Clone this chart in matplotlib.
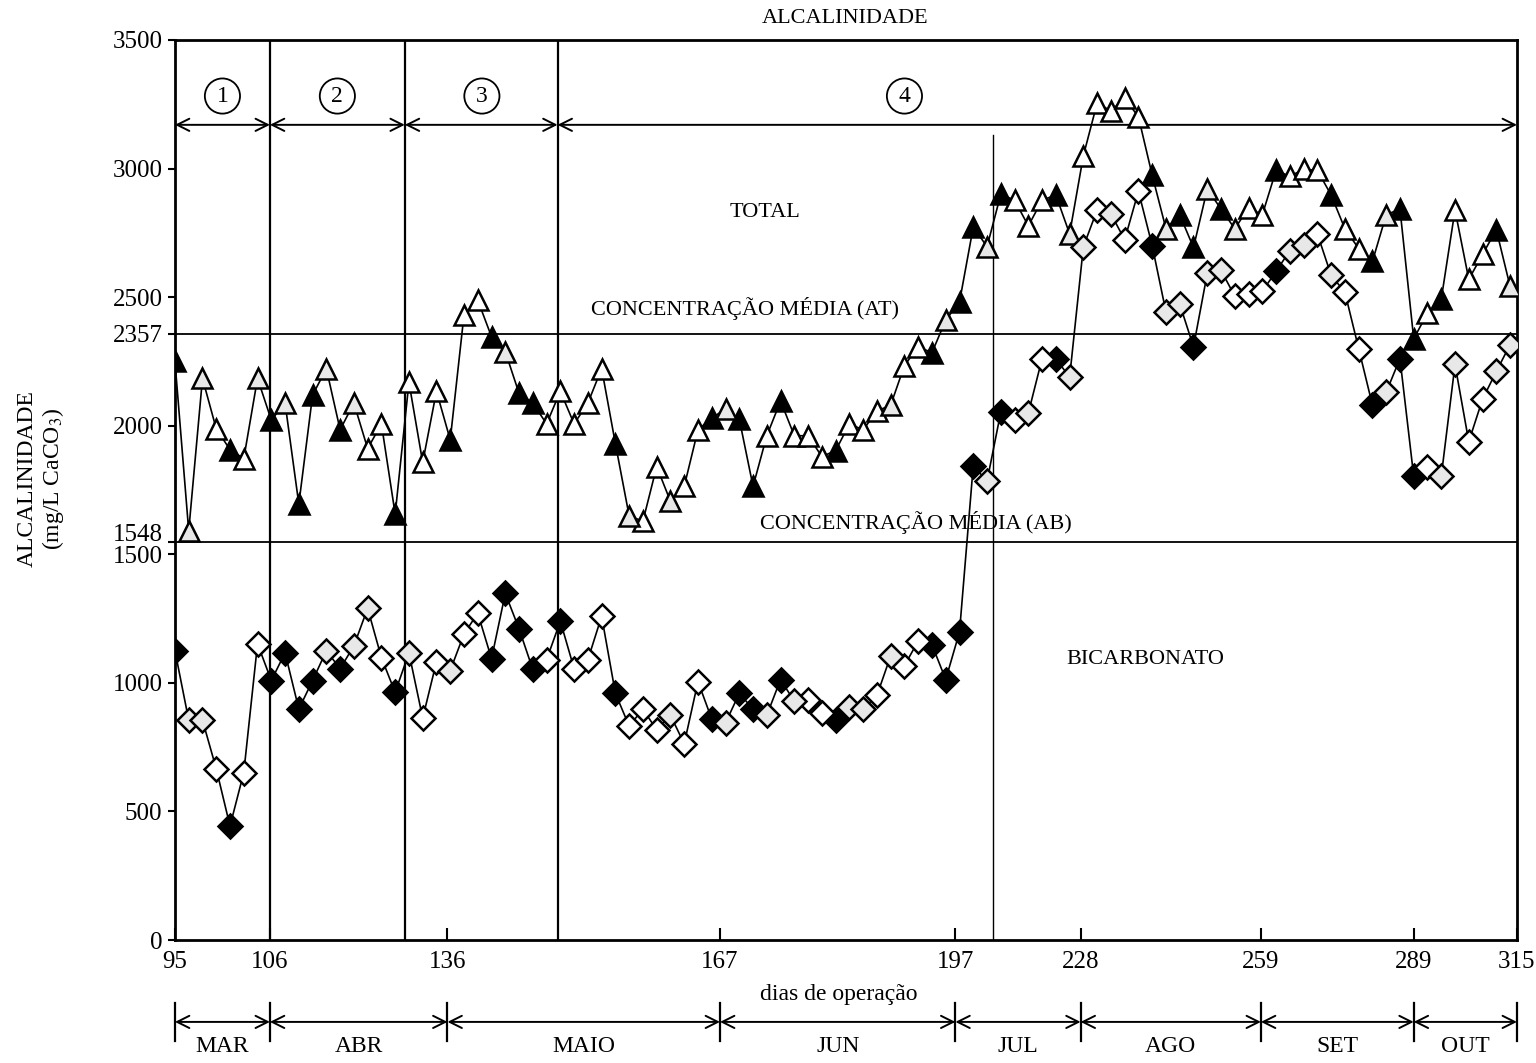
# Alcalinidade total e bicarbonato ao longo dos dias de operação
import numpy as np
import matplotlib
matplotlib.use('Agg')
import matplotlib.pyplot as plt
from matplotlib.transforms import ScaledTranslation

plt.rcParams['font.family'] = ['Liberation Serif', 'DejaVu Serif']
plt.rcParams['mathtext.fontset'] = 'stix'

# alcalinidade total (mg/L CaCO3), uma amostra por ponto
total = [2250, 1591, 2184, 1988, 1907, 1872, 2184, 2022, 2088, 1695,
         2119, 2222, 1984, 2088, 1911, 2007, 1656, 2169, 1857, 2134,
         1945, 2431, 2488, 2346, 2288, 2126, 2088, 2007, 2134, 2007,
         2088, 2222, 1930, 1649, 1629, 1841, 1706, 1764, 1984, 2030,
         2065, 2026, 1764, 1961, 2096, 1961, 1961, 1880, 1903, 2007,
         1984, 2057, 2080, 2234, 2307, 2284, 2411, 2481, 2773, 2696,
         2900, 2877, 2777, 2877, 2897, 2746, 3050, 3255, 3224, 3274,
         3201, 2974, 2766, 2820, 2693, 2920, 2843, 2766, 2847, 2820,
         2993, 2970, 2997, 2993, 2897, 2766, 2689, 2639, 2820, 2843,
         2338, 2438, 2492, 2839, 2569, 2666, 2762, 2542]
# alcalinidade a bicarbonato (mg/L CaCO3)
bicarb = [1125, 855, 855, 666, 443, 651, 1152, 1009, 1117, 898,
          1009, 1125, 1055, 1144, 1290, 1098, 963, 1117, 863, 1082,
          1048, 1190, 1271, 1094, 1348, 1210, 1052, 1090, 1240, 1055,
          1090, 1259, 959, 832, 898, 817, 874, 763, 1005, 859,
          844, 959, 898, 874, 1013, 928, 932, 882, 855, 905,
          898, 951, 1105, 1067, 1163, 1148, 1013, 1198, 1845, 1784,
          2053, 2022, 2049, 2261, 2261, 2188, 2696, 2839, 2824, 2723,
          2912, 2700, 2442, 2473, 2307, 2592, 2604, 2504, 2511, 2523,
          2600, 2681, 2704, 2746, 2585, 2519, 2300, 2080, 2130, 2261,
          1803, 1841, 1803, 2238, 1938, 2103, 2211, 2315]
# preenchimento dos marcadores: f = cheio, o = vazio, d = pontilhado
total_fill = ("fddofodfdffdfdoofooofoofdffooo"
              "oofdoodoofdffofooofooodoofdf"
              "fdfooofdooooofdffdfdoofooofoofdffofooofd")
bicarb_fill = ("fddof" "oofff" "fdfdd" "ofdoo" "dooff" "ffofo"
               "oofoo" "odoof" "dffdf" "doofd" "dodoo" "fff"
               "fdfod" "ofddo" "doofd" "dfddo" "oofdd" "odoof" "dffod" "doodd")

media_at = 2357
media_ab = 1548

# eixo x: posição da amostra, rotulado com os dias de operação
tick_idx = [0, 6.9, 19.8, 39.6, 56.7, 65.8, 78.9, 90.0, 97.5]
tick_days = ['95', '106', '136', '167', '197', '228', '259', '289', '315']
months = ['MAR', 'ABR', 'MAIO', 'JUN', 'JUL', 'AGO', 'SET', 'OUT']
phase_bounds = [0, 6.9, 16.7, 27.8, 97.5]
phase_names = ['1', '2', '3', '4']
phase_label_x = [3.45, 11.8, 22.3, 53.0]

yticks = [0, 500, 1000, 1500, 1548, 2000, 2357, 2500, 3000, 3500]

fill_colors = {'f': 'black', 'o': 'white', 'd': '#e8e8e8'}

fig = plt.figure(figsize=(15.36, 10.63), dpi=100)
ax = fig.add_axes([0.1139, 0.1157, 0.8737, 0.8467])

x = np.arange(len(total))
for serie, fills, mk, ms in [(total, total_fill, '^', 15), (bicarb, bicarb_fill, 'D', 12)]:
    serie = np.array(serie)
    ax.plot(x, serie, color='black', lw=1.2, zorder=3)
    for code, col in fill_colors.items():
        sel = np.array([c == code for c in fills])
        ax.plot(x[sel], serie[sel], ls='none', marker=mk, ms=ms, mfc=col,
                mec='black', mew=1.8, zorder=4)

# linhas de concentração média
ax.axhline(media_at, color='black', lw=1.3, zorder=2)
ax.axhline(media_ab, color='black', lw=1.3, zorder=2)

# fases de operação
for b in phase_bounds[1:-1]:
    ax.axvline(b, color='black', lw=1.6, zorder=2)
ax.plot([59.4, 59.4], [0, 3130], color='black', lw=1.0, zorder=2)
for a, b in zip(phase_bounds[:-1], phase_bounds[1:]):
    ax.annotate('', xy=(b, 3170), xytext=(a, 3170),
                arrowprops=dict(arrowstyle='<->', lw=1.4, color='black',
                                mutation_scale=22, shrinkA=0, shrinkB=0),
                annotation_clip=False)
for px, name in zip(phase_label_x, phase_names):
    ax.text(px, 3282, name, ha='center', va='center', fontsize=17,
            bbox=dict(boxstyle='circle,pad=0.3', fc='white', ec='black', lw=1.3))

ax.text(42.9, 2831, 'TOTAL', ha='center', va='center', fontsize=16)
ax.text(41.4, 2455, 'CONCENTRAÇÃO MÉDIA (AT)', ha='center', va='center', fontsize=16)
ax.text(53.8, 1625, 'CONCENTRAÇÃO MÉDIA (AB)', ha='center', va='center', fontsize=16)
ax.text(70.5, 1089, 'BICARBONATO', ha='center', va='center', fontsize=16)

ax.set_xlim(0, 97.5)
ax.set_ylim(0, 3500)
ax.set_xticks(tick_idx)
ax.set_xticklabels(tick_days)
ax.set_yticks(yticks)
ax.set_yticklabels([str(v) for v in yticks])
ax.tick_params(axis='x', direction='in', length=9, width=1.5, labelsize=18, pad=8)
ax.tick_params(axis='y', direction='out', length=5, width=1.5, labelsize=18, pad=4)
for lab in ax.get_yticklabels():
    if lab.get_text() == '1548':
        lab.set_transform(lab.get_transform() + ScaledTranslation(0, 7 / 72, fig.dpi_scale_trans))
for s in ax.spines.values():
    s.set_linewidth(2)

# barra dos meses abaixo do eixo
trans = ax.get_xaxis_transform()
for a, b in zip(tick_idx[:-1], tick_idx[1:]):
    ax.annotate('', xy=(b, -0.091), xytext=(a, -0.091), xycoords=trans,
                textcoords=trans,
                arrowprops=dict(arrowstyle='<->', lw=1.4, color='black',
                                mutation_scale=22, shrinkA=0, shrinkB=0),
                annotation_clip=False)
for b in tick_idx:
    ax.plot([b, b], [-0.07, -0.112], transform=trans, color='black', lw=1.6,
            clip_on=False)
for a, b, m in zip(tick_idx[:-1], tick_idx[1:], months):
    ax.text((a + b) / 2, -0.118, m, transform=trans, ha='center', va='center',
            fontsize=17)

fig.text(0.55, 0.983, 'ALCALINIDADE', ha='center', va='center', fontsize=16)
fig.text(0.546, 0.064, 'dias de operação', ha='center', va='center', fontsize=17)
fig.text(0.027, 0.55, 'ALCALINIDADE\n(mg/L CaCO$_3$)', ha='center', va='center',
         rotation=90, fontsize=17, linespacing=1.15)

plt.savefig('out.png', dpi=100)
plt.clf()
